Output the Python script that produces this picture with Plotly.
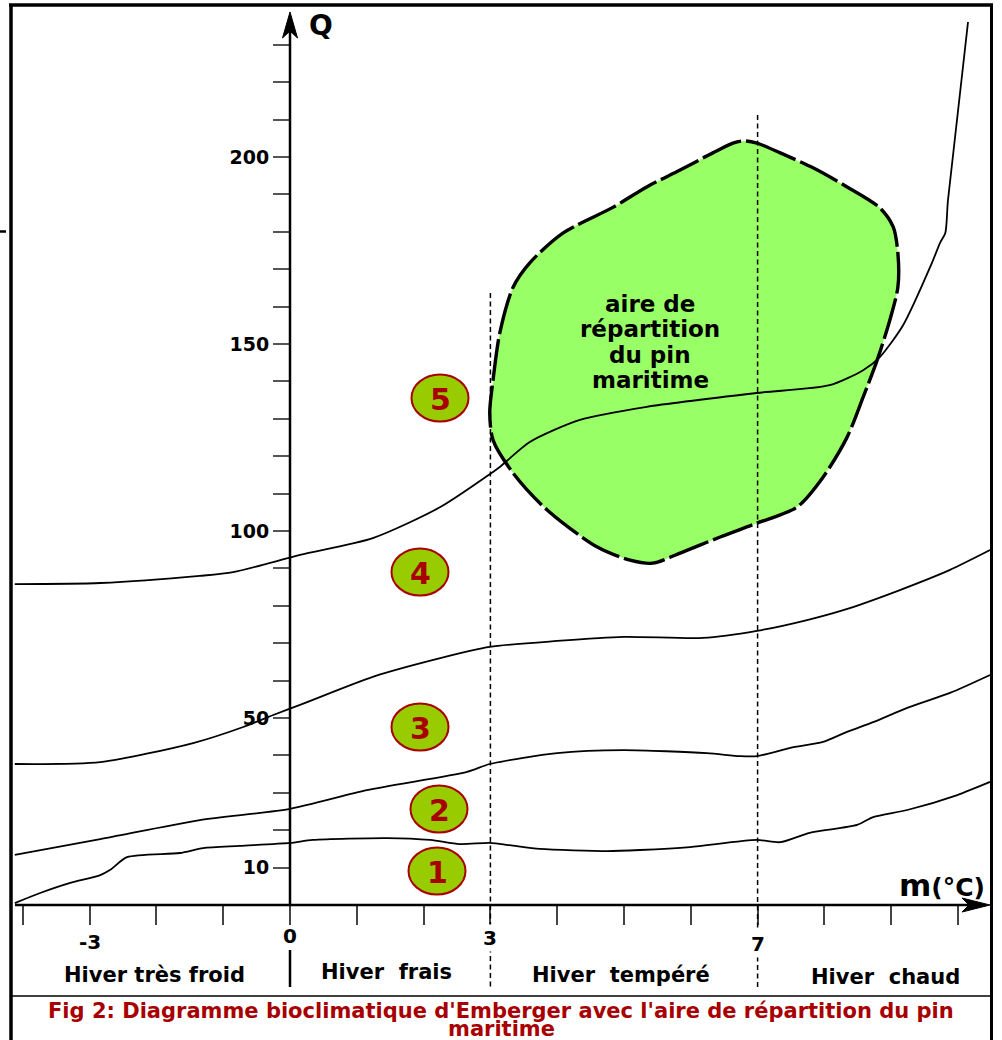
import plotly.graph_objects as go

# ---------------- data (m in °C, Q) ----------------
c1_m = [-4.12, -3.74, -3.29, -2.84, -2.69, -2.44, -1.65, -1.30, -0.75, 0.0, 0.34, 1.45, 2.10, 2.54,
        2.99, 3.29, 3.74, 4.75, 5.24, 5.99, 6.99, 7.34, 7.78, 8.49, 8.73, 9.24, 9.99, 10.48]
c1_q = [0.5, 3.2, 5.9, 8.0, 9.4, 12.8, 13.9, 15.2, 15.8, 16.6, 17.4, 17.9, 17.4, 16.3,
        16.6, 16.0, 15.0, 14.4, 14.7, 15.5, 17.4, 16.8, 19.3, 21.4, 23.5, 25.4, 29.4, 32.9]

c2_m = [-4.12, -2.84, -1.35, 0.0, 1.15, 2.65, 2.99, 4.00, 4.99, 6.24, 6.74, 6.99, 7.49, 7.98,
        8.34, 8.73, 9.24, 9.88, 10.48]
c2_q = [13.4, 17.6, 22.7, 25.7, 30.7, 35.6, 37.7, 40.6, 41.4, 40.6, 39.8, 39.8, 42.0, 43.6,
        46.3, 48.9, 52.7, 56.7, 61.5]

c3_m = [-4.12, -2.84, -1.45, -0.70, -0.25, 0.15, 1.24, 2.25, 2.99, 4.00, 4.99, 6.18, 6.99,
        7.74, 8.38, 9.13, 9.88, 10.48]
c3_q = [37.7, 38.2, 43.3, 47.6, 50.8, 53.5, 61.0, 66.0, 69.0, 70.6, 71.7, 71.4, 73.3,
        76.2, 79.4, 84.2, 89.6, 94.9]

c4_m = [-4.12, -2.84, -1.35, -0.85, 0.15, 1.24, 2.25, 3.04, 3.14, 3.59, 4.34, 5.34, 6.99,
        8.08, 8.58, 8.83, 9.18, 9.61, 9.73, 9.81, 9.85, 10.15]
c4_q = [85.8, 86.1, 88.0, 89.0, 93.6, 98.1, 106.4, 115.8, 117.1, 123.8, 129.7, 133.2, 136.9,
        139.0, 143.0, 146.5, 155.1, 171.7, 177.0, 179.7, 188.5, 236.1]

blob_m = [6.78, 6.99, 7.34, 7.83, 8.34, 8.83, 9.03, 9.10, 9.10, 8.98, 8.79, 8.58, 8.34, 7.98,
          7.59, 6.99, 6.44, 5.84, 5.43, 5.09, 4.60, 3.85, 3.34, 3.04, 2.99, 3.04, 3.14, 3.34,
          3.59, 4.09, 4.84, 5.34, 5.84, 6.33, 6.63]
blob_q = [204.3, 203.7, 201.1, 197.1, 192.0, 186.4, 181.3, 174.3, 165.2, 156.4, 145.7, 135.8,
          125.1, 114.4, 106.4, 102.1, 98.4, 94.1, 91.4, 92.2, 95.7, 105.6, 115.5, 124.3, 131.6,
          140.4, 152.9, 165.2, 171.7, 179.7, 186.6, 192.0, 196.5, 201.1, 203.7]

y_tick_vals = list(range(10, 240, 10))
y_tick_labels = {10: "10", 50: "50", 100: "100", 150: "150", 200: "200"}
x_tick_vals = list(range(-4, 11))
x_tick_labels = ["-3", "0", "3", "7"]
x_tick_label_vals = [-3, 0, 3, 7]
boundaries = [3, 7]
zones = ["1", "2", "3", "4", "5"]
winter_labels = ["Hiver très froid", "Hiver\u00a0 frais", "Hiver\u00a0 tempéré", "Hiver\u00a0 chaud"]
area_lines = ["aire de", "répartition", "du pin", "maritime"]
caption = ["Fig 2: Diagramme bioclimatique d'Emberger avec l'aire de répartition du pin", "maritime"]

# ---------------- geometry ----------------
W, H = 1002, 1040
X0_PX, Y0_PX = 290, 905
PX_PER_M, PX_PER_Q = 66.8, 3.74
xmin, xmax = -X0_PX / PX_PER_M, (W - X0_PX) / PX_PER_M
ymin, ymax = -(H - Y0_PX) / PX_PER_Q, Y0_PX / PX_PER_Q


def pm(px):
    return (px - X0_PX) / PX_PER_M


def pq(py):
    return (Y0_PX - py) / PX_PER_Q


FONT = "DejaVu Sans"
RED = "#a80000"

fig = go.Figure()

# pine area
fig.add_trace(go.Scatter(x=blob_m + blob_m[:1], y=blob_q + blob_q[:1], mode="lines", fill="toself",
                         fillcolor="#99ff66",
                         line=dict(color="black", width=3.4, dash="42px,5px", shape="spline", smoothing=0.8),
                         hoverinfo="skip", showlegend=False))
for xs, ys in [(c1_m, c1_q), (c2_m, c2_q), (c3_m, c3_q), (c4_m, c4_q)]:
    fig.add_trace(go.Scatter(x=xs, y=ys, mode="lines",
                             line=dict(color="black", width=1.8, shape="spline", smoothing=0.7),
                             hoverinfo="skip", showlegend=False))

shapes = []


def pline(x0, y0, x1, y1, w, color="black", dash=None):
    shapes.append(dict(type="line", xref="paper", yref="paper", x0=x0 / W, x1=x1 / W,
                       y0=1 - y0 / H, y1=1 - y1 / H, line=dict(color=color, width=w, dash=dash)))


def dline(x0, y0, x1, y1, w, color="black", dash=None):
    shapes.append(dict(type="line", xref="x", yref="y", x0=x0, x1=x1, y0=y0, y1=y1,
                       line=dict(color=color, width=w, dash=dash)))


# frame
pline(9, 5, 993, 5, 3.5)
pline(11, 4, 11, 1040, 3.5)
pline(991.5, 4, 991.5, 1040, 3)
pline(12, 996, 991, 996, 1.5)
pline(0, 231.5, 6, 231.5, 2.5)

# axes lines
dline(0, 0, 0, pq(30), 2.5)
dline(pm(15), 0, pm(970), 0, 2.5)
# arrowheads
ya = [(290, 12), (282.5, 38), (290, 31), (297.5, 38)]
shapes.append(dict(type="path", xref="x", yref="y", fillcolor="black", line=dict(color="black", width=1),
                   path="M " + " L ".join(f"{pm(a)},{pq(b)}" for a, b in ya) + " Z"))
xa = [(990, 905), (962, 898), (969, 905), (962, 912)]
shapes.append(dict(type="path", xref="x", yref="y", fillcolor="black", line=dict(color="black", width=1),
                   path="M " + " L ".join(f"{pm(a)},{pq(b)}" for a, b in xa) + " Z"))

# separator between winter classes at m=0
dline(0, pq(950), 0, pq(987), 2.5)
# dotted boundaries
dline(boundaries[0], pq(293), boundaries[0], pq(990), 1.5, dash="5px,3.5px")
dline(boundaries[1], pq(115), boundaries[1], pq(990), 1.5, dash="5px,3.5px")

# zone ellipses
zone_pos = [(437, 871), (439, 809), (420, 727), (420, 572), (440, 398)]
annotations = []
for z, (cx, cy) in zip(zones, zone_pos):
    shapes.append(dict(type="circle", xref="x", yref="y", x0=pm(cx - 28.5), x1=pm(cx + 28.5),
                       y0=pq(cy + 23.5), y1=pq(cy - 23.5), fillcolor="#99cc00",
                       line=dict(color=RED, width=2)))
    annotations.append(dict(x=pm(cx), y=pq(cy + 1), text=z, showarrow=False, xref="x", yref="y",
                            font=dict(family=FONT, size=30, color=RED, weight="bold")))

# x tick labels
x_label_py = [942, 936, 938, 944]
for t, v, py in zip(x_tick_labels, x_tick_label_vals, x_label_py):
    annotations.append(dict(x=v, y=pq(py), text=t, showarrow=False, xref="x", yref="y",
                            bgcolor="white" if v in boundaries else None, borderpad=1,
                            font=dict(family=FONT, size=20, color="black", weight="bold")))

# winter labels
wl_pos = [(154, 975), (386, 972), (621, 975), (885, 977)]
for t, (cx, cy) in zip(winter_labels, wl_pos):
    annotations.append(dict(x=pm(cx), y=pq(cy), text=t, showarrow=False, xref="x", yref="y",
                            font=dict(family=FONT, size=21, color="black", weight="bold")))

# area text
for i, t in enumerate(area_lines):
    annotations.append(dict(x=pm(650), y=pq(304 + 25.3 * i), text=t, showarrow=False, xref="x", yref="y",
                            borderpad=0,
                            font=dict(family=FONT, size=23, color="black", weight="bold")))

# axis titles
annotations.append(dict(x=pm(321), y=pq(25), text="Q", showarrow=False, xref="x", yref="y",
                        font=dict(family=FONT, size=28, color="black", weight="bold")))
annotations.append(dict(x=pm(942), y=pq(885), text="m<span style='font-size:25px'>(°C)</span>",
                        showarrow=False, xref="x", yref="y",
                        font=dict(family=FONT, size=31, color="black", weight="bold")))

# caption
for t, cy in zip(caption, [1011, 1029]):
    annotations.append(dict(x=pm(501), y=pq(cy), text=t, showarrow=False, xref="x", yref="y",
                            borderpad=0,
                            font=dict(family=FONT, size=21, color=RED, weight="bold")))

fig.update_layout(
    width=W, height=H, margin=dict(l=0, r=0, t=0, b=0),
    paper_bgcolor="white", plot_bgcolor="white",
    showlegend=False, shapes=shapes, annotations=annotations,
    xaxis=dict(range=[xmin, xmax], showgrid=False, zeroline=False, showline=False,
               tickvals=x_tick_vals, ticktext=[""] * len(x_tick_vals),
               ticks="outside", ticklen=19, tickwidth=2, tickcolor="#444",
               anchor="free", position=(0 - ymin) / (ymax - ymin)),
    yaxis=dict(range=[ymin, ymax], showgrid=False, zeroline=False, showline=False,
               tickvals=y_tick_vals, ticktext=[y_tick_labels.get(v, "") for v in y_tick_vals],
               ticks="outside", ticklen=17, tickwidth=2, tickcolor="#555",
               tickfont=dict(family=FONT, size=19, color="black", weight="bold"),
               anchor="free", position=(0 - xmin) / (xmax - xmin)),
)

fig.write_html("out.html", config={"displayModeBar": False},
               post_script="document.body.style.margin='0';document.body.style.overflow='hidden';")
